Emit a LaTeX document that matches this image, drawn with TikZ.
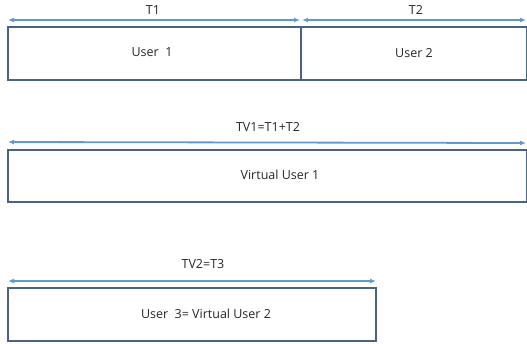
\documentclass[tikz,border=0pt]{standalone}
\usepackage{fontspec}
\setmainfont{Open Sans}
\usetikzlibrary{arrows.meta}
\definecolor{boxc}{HTML}{4A6283}
\definecolor{arrc}{HTML}{5B9BD5}
\begin{document}
\begin{tikzpicture}[x=1pt,y=-1pt,
  ubox/.style={draw=boxc,line width=1.3pt,rectangle},
  span/.style={draw=arrc,line width=1.8pt,{Latex[length=6pt,width=5pt]}-{Latex[length=6pt,width=5pt]}},
  lbl/.style={font=\fontsize{12.5}{14}\selectfont,text=black!85,inner sep=0pt}]
\useasboundingbox (0,0) rectangle (527,343);
% Row 1
\draw[ubox] (8,27) rectangle (301,80);
\draw[ubox] (301,27) rectangle (526.5,80);
\node[lbl] (u1) at (152,52) {User\ \ 1};
\node[lbl] (u2) at (414,53) {User 2};
\coordinate (a1l) at (8,20);
\coordinate (a1r) at (300,20);
\coordinate (a2l) at (302,20);
\coordinate (a2r) at (526,20);
\draw[span] (a1l) -- (a1r);
\draw[span] (a2l) -- (a2r);
\node[lbl] (t1) at (153,10) {T1};
\node[lbl] (t2) at (416,10) {T2};
% Row 2
\draw[ubox] (8,150) rectangle (526.5,202);
\node[lbl] (vu1) at (280,175) {Virtual User 1};
\coordinate (b1l) at (8,142);
\coordinate (b1r) at (526,143);
\draw[span] (b1l) -- (b1r);
\node[lbl] (tv1) at (268,127) {TV1=T1+T2};
% Row 3
\draw[ubox] (8,288) rectangle (376,341);
\node[lbl] (u3) at (206,314) {User\ \ 3= Virtual User 2};
\coordinate (c1l) at (8,281);
\coordinate (c1r) at (376,281);
\draw[span] (c1l) -- (c1r);
\node[lbl] (tv2) at (203,264) {TV2=T3};
\end{tikzpicture}
\end{document}
